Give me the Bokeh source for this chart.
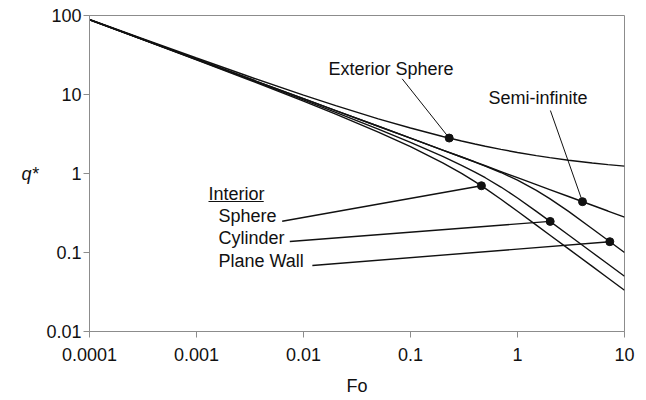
from bokeh.plotting import figure
from bokeh.models import FixedTicker, CustomJSTickFormatter, Label
from bokeh.embed import file_html
from bokeh.resources import INLINE

# ---- data (log-log) ----
fo = [0.0001, 0.0003, 0.001, 0.003, 0.01, 0.02, 0.05, 0.1, 0.2, 0.3,
      0.4, 0.5, 0.7, 1, 1.5, 2, 3, 5, 7, 10]
semi_infinite = [88.60, 51.15, 28.02, 16.18, 8.860, 6.265, 3.962, 2.802, 1.981, 1.618,
                 1.401, 1.253, 1.059, 0.886, 0.7234, 0.6265, 0.5115, 0.3962, 0.3349, 0.2802]
exterior_sphere = [89.56, 52.11, 28.98, 17.14, 9.820, 7.225, 4.922, 3.762, 2.941, 2.578,
                   2.361, 2.213, 2.019, 1.846, 1.683, 1.587, 1.472, 1.356, 1.295, 1.240]
plane_wall = [88.60, 51.15, 28.02, 16.18, 8.860, 6.265, 3.962, 2.802, 1.981, 1.617,
              1.397, 1.242, 1.030, 0.823, 0.612, 0.481, 0.331, 0.200, 0.143, 0.100]
cylinder = [88.29, 50.84, 27.71, 15.87, 8.550, 5.950, 3.643, 2.479, 1.645, 1.270,
            1.042, 0.884, 0.674, 0.490, 0.332, 0.250, 0.1667, 0.100, 0.0714, 0.050]
sphere = [87.98, 50.53, 27.40, 15.56, 8.243, 5.648, 3.345, 2.185, 1.364, 1.002,
          0.789, 0.647, 0.472, 0.333, 0.222, 0.1667, 0.1111, 0.0667, 0.0476, 0.0333]

# marker dots on the curves (Exterior Sphere, Semi-infinite, Sphere, Cylinder, Plane Wall)
dot_fo = [0.23, 4.05, 0.46, 2.02, 7.29]
dot_q = [2.81, 0.44, 0.70, 0.2475, 0.137]
# leader line start points (near the labels)
leader_fo = [0.0836, 2.03, 0.00632, 0.00745, 0.0121]
leader_q = [15.8, 6.27, 0.249, 0.138, 0.0684]

x_ticks = [0.0001, 0.001, 0.01, 0.1, 1, 10]
x_tick_labels = ["0.0001", "0.001", "0.01", "0.1", "1", "10"]
y_ticks = [0.01, 0.1, 1, 10, 100]
y_tick_labels = ["0.01", "0.1", "1", "10", "100"]

label_texts = ["Exterior Sphere", "Semi-infinite", "Interior", "Sphere", "Cylinder", "Plane Wall"]
label_fo = [0.01713, 0.5358, 0.001295, 0.001605, 0.001605, 0.001605]
label_q = [21.33, 9.16, 0.558, 0.2856, 0.1504, 0.0792]
underline_fo = [0.001295, 0.00425]
underline_q = [0.442, 0.442]

FONT = "Liberation Sans"
GRAY = "#8c8c8c"
INK = "#111111"

p = figure(width=646, height=400, x_axis_type="log", y_axis_type="log",
           x_range=(0.0001, 10), y_range=(0.01, 100),
           output_backend="svg", toolbar_location=None,
           min_border_left=89, min_border_right=22, min_border_top=15, min_border_bottom=69)
p.background_fill_color = "white"
p.border_fill_color = "white"
p.outline_line_color = GRAY
p.outline_line_width = 1
p.grid.visible = False

fmt_code = """
let best = 0, bd = 1e9;
for (let i = 0; i < tvals.length; i++) {
  const d = Math.abs(Math.log10(tvals[i]) - Math.log10(tick));
  if (d < bd) { bd = d; best = i; }
}
return bd < 1e-6 ? tlabels[best] : "";
"""
p.xaxis.ticker = FixedTicker(ticks=x_ticks, minor_ticks=[])
p.yaxis.ticker = FixedTicker(ticks=y_ticks, minor_ticks=[])
p.xaxis.formatter = CustomJSTickFormatter(args=dict(tvals=x_ticks, tlabels=x_tick_labels), code=fmt_code)
p.yaxis.formatter = CustomJSTickFormatter(args=dict(tvals=y_ticks, tlabels=y_tick_labels), code=fmt_code)

for ax in (p.xaxis, p.yaxis):
    ax.axis_line_color = GRAY
    ax.major_tick_line_color = GRAY
    ax.minor_tick_line_color = None
    ax.major_tick_out = 6
    ax.major_tick_in = 0
    ax.major_label_text_font = FONT
    ax.major_label_text_font_size = "18px"
    ax.major_label_text_color = INK
    ax.axis_label_text_font = FONT
    ax.axis_label_text_font_size = "18px"
    ax.axis_label_text_color = INK

p.xaxis.major_label_standoff = 10
p.yaxis.major_label_standoff = 2
p.xaxis.axis_label = "Fo"
p.xaxis.axis_label_text_font_style = "normal"
p.xaxis.axis_label_standoff = 12
p.yaxis.axis_label = "q*"
p.yaxis.axis_label_orientation = "horizontal"
p.yaxis.axis_label_text_font_style = "italic"
p.yaxis.axis_label_standoff = 5

for series in (exterior_sphere, semi_infinite, plane_wall, cylinder, sphere):
    p.line(fo, series, line_color=INK, line_width=1.4)

# leader lines
p.segment(x0=leader_fo[:2], y0=leader_q[:2], x1=dot_fo[:2], y1=dot_q[:2],
          line_color=INK, line_width=1)
p.segment(x0=leader_fo[2:], y0=leader_q[2:], x1=dot_fo[2:], y1=dot_q[2:],
          line_color=INK, line_width=1.4)
p.scatter(dot_fo, dot_q, size=8, color=INK)

for t, x, y in zip(label_texts, label_fo, label_q):
    p.add_layout(Label(x=x, y=y, text=t, text_font=FONT, text_font_size="18px",
                       text_color=INK, text_baseline="middle", text_align="left"))
p.line(underline_fo, underline_q, line_color=INK, line_width=1)

open("out.html", "w").write(file_html(p, INLINE))
